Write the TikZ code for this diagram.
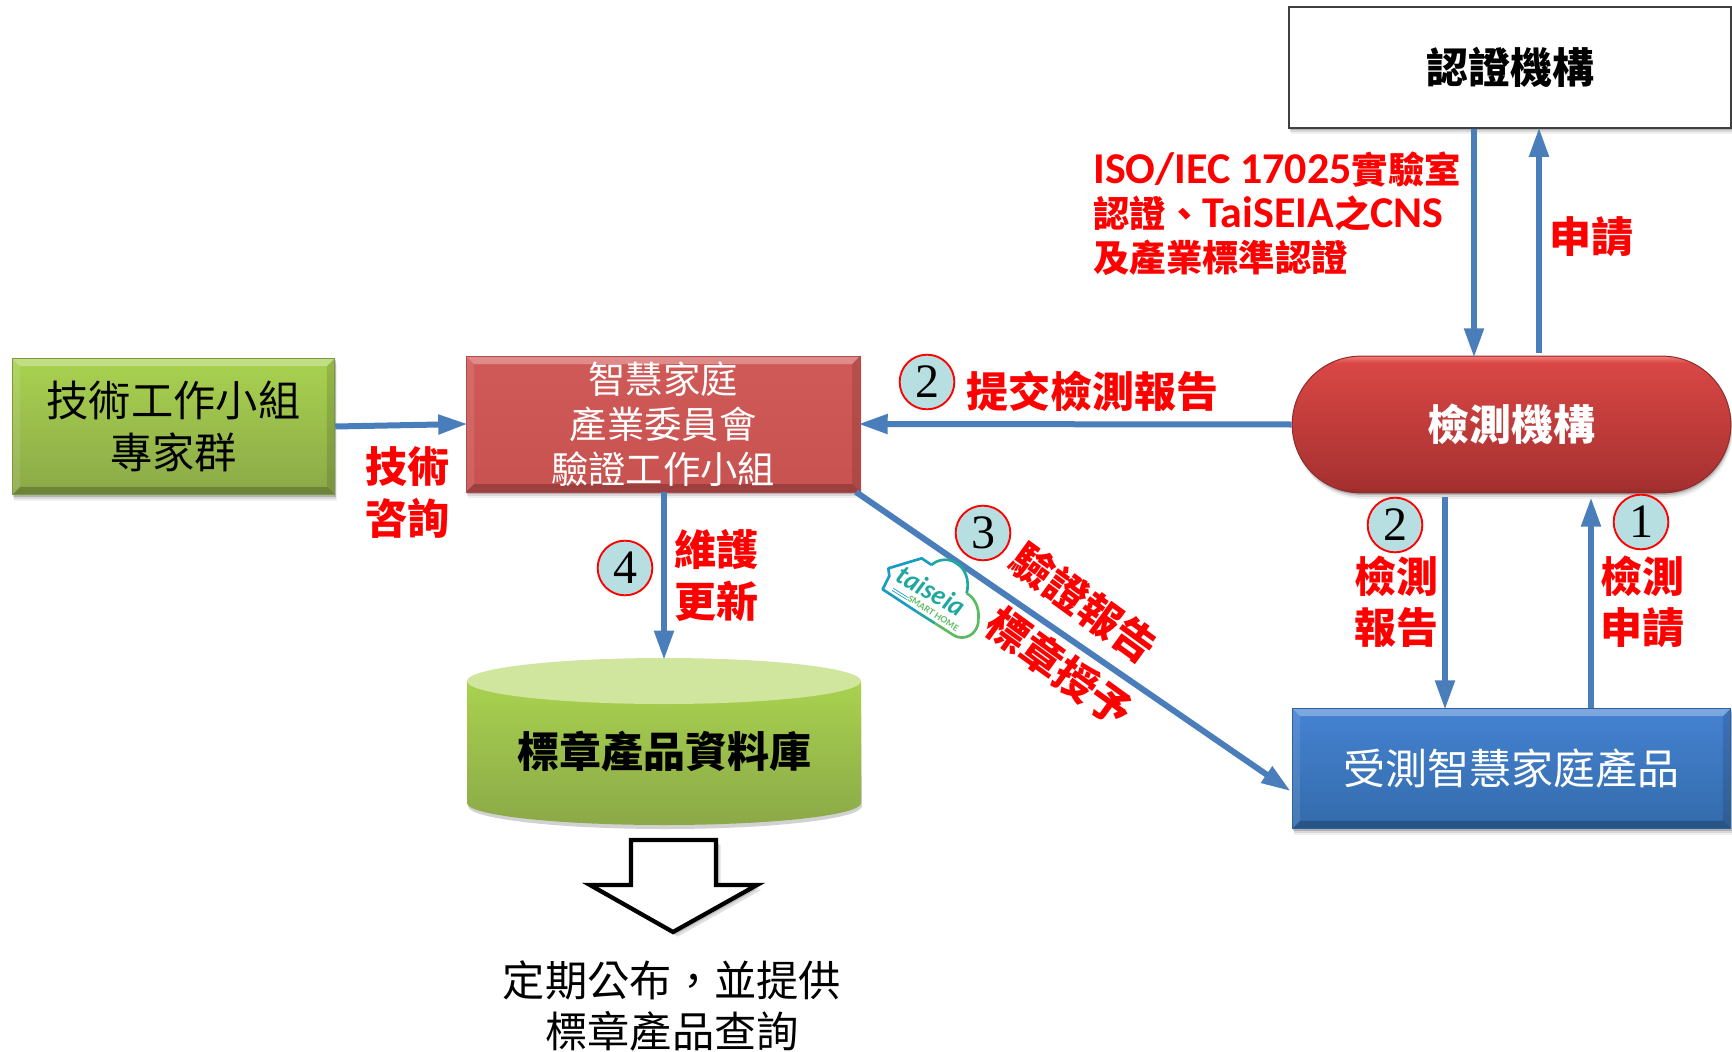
\documentclass[tikz,border=0pt]{standalone}
\usepackage{fontspec}
\setmainfont{Noto Sans CJK TC}
\newfontfamily\digitfont{Liberation Serif}
\newfontfamily\latinfont{Carlito}
\newfontfamily\logofont{Lato}
\usetikzlibrary{arrows.meta,shadows,shapes.misc,calc}
\definecolor{flowc}{HTML}{4A7EBB}
\definecolor{redtxt}{HTML}{FF0000}
\definecolor{gtop}{HTML}{A9D24F}\definecolor{gbot}{HTML}{8BA948}
\definecolor{rtop}{HTML}{D05A58}\definecolor{rbot}{HTML}{C85250}
\definecolor{btop}{HTML}{4582D2}\definecolor{bbot}{HTML}{336BAA}
\definecolor{numfill}{HTML}{B7DEE1}
\definecolor{lgA}{HTML}{1A9CC0}\definecolor{lgB}{HTML}{1FA8A0}\definecolor{lgC}{HTML}{5CBB60}
\definecolor{pA}{HTML}{8F2B2A}\definecolor{pB}{HTML}{A63130}\definecolor{pC}{HTML}{D94745}\definecolor{pD}{HTML}{F07C78}
\pgfdeclareverticalshading{pillsh}{100bp}{
 color(0bp)=(pA); color(25bp)=(pA); color(27bp)=(pB); color(72.5bp)=(pC); color(75bp)=(pD); color(100bp)=(pD)}
\pgfdeclareverticalshading{cylsh}{100bp}{
 color(0bp)=(gbot); color(25bp)=(gbot); color(75bp)=(gtop); color(100bp)=(gtop)}
\newcommand{\fs}[1]{\fontsize{#1}{#1}\selectfont}
\newcommand{\isolat}[1]{{\latinfont\bfseries\fontsize{33}{33}\selectfont #1}}
\tikzset{
 softshadow/.style={drop shadow={shadow xshift=.5pt,shadow yshift=-1.5pt,fill=black,opacity=.18},
   drop shadow={shadow xshift=1pt,shadow yshift=-3pt,fill=black,opacity=.1},
   drop shadow={shadow xshift=1.5pt,shadow yshift=-4.5pt,fill=black,opacity=.06}},
 bevel/.style n args={2}{path picture={
   \coordinate (bSW) at (path picture bounding box.south west);
   \coordinate (bNE) at (path picture bounding box.north east);
   \fill[white,opacity=.3] (bSW|-bNE) -- (bNE) -- ++(-6pt,-6pt) -- ($(bSW|-bNE)+(6pt,-6pt)$) -- cycle;
   \fill[white,opacity=.1] (bSW) -- (bSW|-bNE) -- ++(6pt,-6pt) -- ($(bSW)+(6pt,6pt)$) -- cycle;
   \fill[black,opacity=.12] (bNE) -- (bNE|-bSW) -- ++(-6pt,6pt) -- ($(bNE)+(-6pt,-6pt)$) -- cycle;
   \fill[black,opacity=.22] (bSW) -- (bNE|-bSW) -- ++(-6pt,6pt) -- ($(bSW)+(6pt,6pt)$) -- cycle;
 }, top color=#1, bottom color=#2, draw=#2!90!black, line width=.6pt, softshadow},
 flow/.style={draw=flowc,line width=4.5pt,shorten >=-1.5pt,-{Triangle[length=22pt,width=14pt]}},
 num/.style={circle,minimum size=41pt,inner sep=0pt,fill=numfill,draw=red,line width=1.4pt,
   font=\digitfont\fs{36}},
 lab/.style={text=redtxt,font=\bfseries\fs{31.5},inner sep=0pt,align=center},
}
\begin{document}
\begin{tikzpicture}[x=.75pt,y=-.75pt]
\useasboundingbox (0,0) rectangle (1732,1052);
% boxes
\node[draw=black!75,line width=2.2pt,fill=white,softshadow,minimum width=331.5pt,minimum height=90.75pt,inner sep=0pt,
  font=\bfseries\fs{31.5}] (cert) at (1510,67.5) {認證機構};
\node[rounded rectangle,shading=pillsh,draw=pA,line width=.75pt,softshadow,
  minimum width=329pt,minimum height=102.5pt,inner sep=0pt,text=white,font=\bfseries\fs{31.5}]
  (labo) at (1511.5,424.5) {檢測機構};
\node[bevel={btop}{bbot},minimum width=329pt,minimum height=90.5pt,inner sep=0pt,text=white,
  font=\fs{31.5}] (prod) at (1511.5,768.5) {受測智慧家庭產品};
\node[bevel={gtop}{gbot},minimum width=242pt,minimum height=102.5pt,inner sep=0pt,align=center,
  font=\fontsize{31.7}{38.5}\selectfont] (tech) at (173.5,426.5) {技術工作小組\\專家群};
\node[bevel={rtop}{rbot},minimum width=295.5pt,minimum height=102pt,inner sep=0pt,align=center,text=white,
  font=\fontsize{28}{33.5}\selectfont] (comm) at (663,424) {智慧家庭\\產業委員會\\驗證工作小組};
% database
\fill[black,opacity=.18] (468,686) -- (468,806) arc[start angle=180,end angle=360,x radius=197,y radius=-23] -- (861,686) -- cycle;
\shade[shading=cylsh] (467,681) -- (467,803) arc[start angle=180,end angle=360,x radius=197,y radius=-22] -- (861,681) -- cycle;
\fill[fill=gtop!55!white] (664,681) ellipse[x radius=197,y radius=23];
\node[minimum width=295.5pt,minimum height=140.25pt,inner sep=0pt,outer sep=0pt,font=\bfseries\fs{31.5}] (db) at (664,751.5) {標章產品資料庫};
% connectors
\draw[flow] (tech.east) -- (comm.west);
\draw[flow] (labo.west) -- (comm.east);
\draw[flow] (comm.south -| db.north) -- (db.north);
\coordinate (diagA) at (856,492); \coordinate (diagB) at (1289,790);
\draw[flow] (diagA) -- (diagB);
\coordinate (x1) at (1474,0); \coordinate (x2) at (1539,0); \coordinate (x3) at (1445,0); \coordinate (x4) at (1591,0);
\draw[flow] (cert.south -| x1) -- (labo.north -| x1);
\draw[flow,shorten <=2pt] (labo.north -| x2) -- (cert.south -| x2);
\draw[flow,shorten <=3pt] (labo.south -| x3) -- (prod.north -| x3);
\draw[flow,shorten >=3pt] (prod.north -| x4) -- (labo.south -| x4);
% big arrow
\draw[draw=black,line width=3.2pt,fill=white,miter limit=10,
  drop shadow={shadow xshift=2pt,shadow yshift=-2pt,fill=black,opacity=.15},
  drop shadow={shadow xshift=3.5pt,shadow yshift=-3.5pt,fill=black,opacity=.12}]
  (631,840) -- (716,840) -- (716,885) -- (757,885) -- (673,932) -- (590,885) -- (631,885) -- cycle;
% number circles
\node[num] (n1) at (1641,522) {1};
\node[num] (n2a) at (1395,525) {2};
\node[num] (n2b) at (927,382) {2};
\node[num] (n3) at (983,533) {3};
\node[num] (n4) at (625,568) {4};
% labels
\node[text=redtxt,inner sep=0pt,align=left,anchor=west,font=\bfseries\fontsize{27.3}{33}\selectfont] (iso) at (1093,214)
 {\isolat{ISO/IEC 17025}實驗室\\認證、\isolat{TaiSEIA}之\isolat{CNS}\\及產業標準認證};
\node[lab] (l1) at (1591,237) {申請};
\node[lab] (l2) at (1092,391) {提交檢測報告};
\node[lab,font=\bfseries\fontsize{31.5}{39}\selectfont] (l3) at (407,493) {技術\\咨詢};
\node[lab,font=\bfseries\fontsize{31.5}{39}\selectfont] (l4) at (716,575) {維護\\更新};
\node[lab,font=\bfseries\fontsize{31.5}{38.5}\selectfont] (l5) at (1396,602) {檢測\\報告};
\node[lab,font=\bfseries\fontsize{31.5}{38.5}\selectfont] (l6) at (1642,602) {檢測\\申請};
\node[lab,rotate=-36] (l7) at (1084,603) {驗證報告};
\node[lab,rotate=-36] (l8) at (1060,667) {標章授予};
% outcome text
\node[font=\fontsize{31.7}{38.5}\selectfont,align=center,inner sep=0pt] (pub) at (672,1006) {定期公布，並提供\\標章產品查詢};
% logo
\begin{scope}[shift={(850,500)},x=.25pt,y=-.25pt,line width=2pt,line join=round]
\draw[lgC] (310,405) .. controls (340,425) and (385,405) .. (385,360) .. controls (390,320) and (370,290) .. (350,280);
\draw[lgB] (350,280) .. controls (360,240) and (345,205) .. (320,190) .. controls (300,175) and (265,175) .. (245,195);
\draw[lgA] (245,195) -- (215,175) -- (115,205) -- (118,228) -- (98,268) -- (200,335);
\draw[lgB] (200,335) -- (255,370);
\draw[lgC] (255,370) -- (310,405);
\node[rotate=-30,text=lgB,font=\logofont\bfseries\itshape\fs{20},inner sep=0pt] (lgo) at (245,272) {taiseia};
\node[rotate=-33,text=lgC,font=\logofont\bfseries\fs{6.5},inner sep=0pt] (lgs) at (250,340) {SMART HOME};
\draw[lgA,line width=.5pt] (130,265) -- (175,293);
\draw[lgA,line width=.5pt] (126,271) -- (171,299);
\end{scope}
\end{tikzpicture}
\end{document}
